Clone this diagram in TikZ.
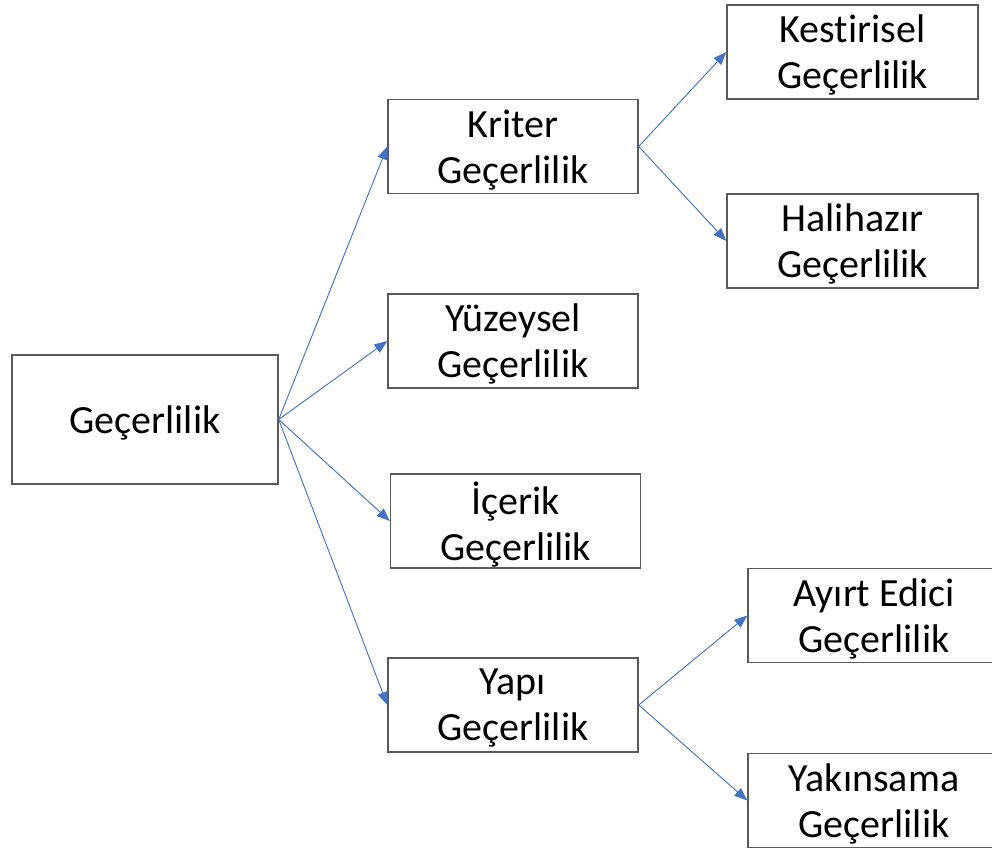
\documentclass[tikz,border=0pt]{standalone}
\usepackage{fontspec}
\setmainfont{Carlito}[Ligatures=NoCommon]
\usepackage{tikz}
\usetikzlibrary{arrows.meta}
\usepackage{xcolor}
\definecolor{arrowblue}{HTML}{4472C4}
\definecolor{boxgray}{HTML}{595959}

\tikzset{
	kutu/.style={draw=boxgray, line width=1.4pt, rectangle, align=center,
		minimum width=250pt, minimum height=94pt, inner sep=0pt, text depth=0pt,
		font=\fontsize{40}{46}\selectfont},
	ok/.style={draw=arrowblue, fill=arrowblue, line width=0.9pt, -{Triangle[length=13pt,width=10pt]}}
}

\begin{document}
\begin{tikzpicture}[x=1pt, y=-1pt]
		\useasboundingbox (0,0) rectangle (992,852);

		% Boxes
		\node[kutu, minimum width=266pt, minimum height=129pt] (gecerlilik) at (145,419.5) {Geçerlilik};
		\node[kutu] (kriter) at (513,146.5) {Kriter\\Geçerlilik};
		\node[kutu] (yuzeysel) at (513,341) {Yüzeysel\\Geçerlilik};
		\node[kutu] (icerik) at (515.5,521) {İçerik\\Geçerlilik};
		\node[kutu] (yapi) at (513,705) {Yapı\\Geçerlilik};
		\node[kutu, minimum width=251pt] (kestirisel) at (852.5,52) {Kestirisel\\Geçerlilik};
		\node[kutu, minimum width=251pt] (halihazir) at (852.5,241) {Halihazır\\Geçerlilik};
		% right side of these two runs off the picture
		\node[kutu, minimum width=252pt] (ayirt) at (874,615.5) {Ayırt Edici\\Geçerlilik};
		\node[kutu, minimum width=252pt] (yakinsama) at (874,800.5) {Yakınsama\\Geçerlilik};

		% Arrows
		\foreach \to in {kriter, yuzeysel, icerik, yapi} {
			\draw[ok] (gecerlilik.east) -- (\to.west);
		}
		\draw[ok] (kriter.east) -- (kestirisel.west);
		\draw[ok] (kriter.east) -- (halihazir.west);
		\draw[ok] (yapi.east) -- (ayirt.west);
		\draw[ok] (yapi.east) -- (yakinsama.west);
	\end{tikzpicture}
\end{document}
